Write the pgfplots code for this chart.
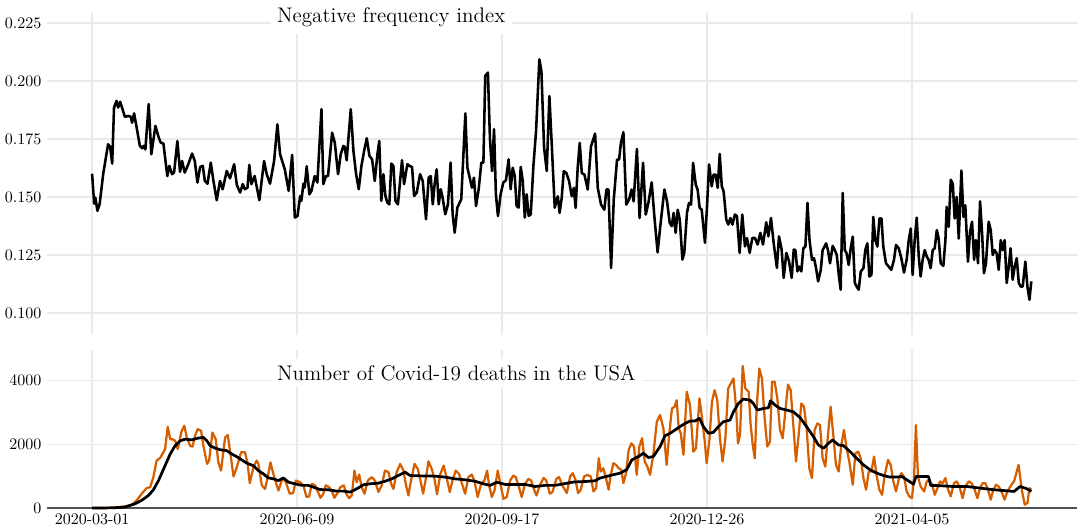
\documentclass[border=0pt]{standalone}
\usepackage{pgfplots}
\pgfplotsset{compat=1.18}
\definecolor{vermil}{RGB}{213,94,0}
\definecolor{gridc}{RGB}{234,234,234}
\definecolor{axc}{RGB}{80,80,80}
\tikzset{ttl/.style={font=\fontsize{13.2}{15}\selectfont, fill=white, inner sep=4pt, anchor=base west}}
\begin{document}
\begin{tikzpicture}
\useasboundingbox (0pt,0pt) rectangle (677.5pt,330pt);
\pgfplotsset{
  common/.style={
    scale only axis, width=643.75pt, anchor=south west,
    xmin=-22, xmax=480.5,
    xtick={0,100,200,300,400},
    grid=major, major grid style={draw=gridc, line width=0.8pt},
    major tick length=0pt, tick style={draw=none},
    axis x line*=bottom, axis y line*=left,
    y axis line style={draw=none},
    clip=false,
    tick label style={font=\normalsize, black},
  },
}
\begin{axis}[common,
  at={(29.375pt,120.625pt)}, height=201.875pt,
  ymin=0.0905, ymax=0.2297,
  ytick={0.100,0.125,0.150,0.175,0.200,0.225},
  yticklabel style={/pgf/number format/fixed, /pgf/number format/fixed zerofill, /pgf/number format/precision=3},
  xticklabels={},
  x axis line style={draw=none},
]
\addplot[black, line width=1.6pt, line join=round] coordinates {
(0,0.160)(1,0.1471)(1.6,0.1497)(2.6,0.144)(3.7,0.147)(5.4,0.1598)(7.8,0.1727)(8.8,0.1716)(9.8,0.1644)(10.7,0.1885)(11.9,0.1914)(12.7,0.1885)(13.7,0.191)(14.6,0.1885)(16,0.1845)(17.6,0.1849)(18.9,0.1845)(19.5,0.182)(20.5,0.186)(21.6,0.1806)(23.3,0.172)(24.4,0.171)(25,0.172)(26,0.1705)(27.6,0.190)(28.9,0.1684)(30.9,0.1806)(32.5,0.1756)(33.5,0.1734)(34.8,0.173)(36.7,0.159)(37.7,0.1634)(39,0.1598)(40,0.1605)(41.6,0.1741)(42.9,0.1608)(43.9,0.1655)(45.2,0.1605)(46.8,0.1638)(48.8,0.1687)(50.1,0.1655)(51.4,0.1562)(52.7,0.1629)(54,0.1634)(55,0.1569)(56.3,0.1557)(57.9,0.1648)(59.2,0.1569)(60.8,0.1486)(62.4,0.1569)(63.7,0.1533)(65.7,0.1612)(67.3,0.158)(69.3,0.1641)(70.6,0.1552)(72.2,0.1519)(73.5,0.1555)(74.5,0.1533)(75.8,0.154)(76.7,0.1638)(77.7,0.1555)(79.3,0.159)(81.6,0.1486)(83.9,0.1655)(85.2,0.1598)(86.8,0.1557)(88.8,0.1655)(90.4,0.1813)(91.7,0.1684)(94,0.1619)(95.9,0.1526)(97.6,0.1681)(98.9,0.1411)(100.2,0.1418)(101.5,0.1504)(102.1,0.1483)(103.1,0.1557)(103.7,0.154)(104.7,0.1632)(106,0.1511)(107,0.1526)(108.6,0.159)(109.9,0.1562)(111.9,0.1878)(112.8,0.1555)
(114.1,0.159)(115.1,0.159)(117.1,0.1777)(118.4,0.1734)(120,0.1598)(121.3,0.1684)(122.6,0.172)(123.2,0.1716)(124.2,0.1658)(126.2,0.1878)(127.5,0.1698)(128.8,0.1598)(130.1,0.1533)(131.4,0.1634)(132.7,0.1698)(134,0.1753)(135.3,0.1677)(136.6,0.1662)(137.9,0.1569)(139.2,0.1684)(140.1,0.1741)(141.1,0.1483)(142.1,0.1598)(143.1,0.1504)(144,0.1476)(145,0.1468)(146,0.1644)(147,0.1634)(148,0.1483)(149.2,0.1468)(151.2,0.1658)(152.2,0.1555)(153.8,0.1641)(154.8,0.1634)(156.1,0.1629)(157.1,0.1504)(158.4,0.1519)(160,0.1598)(161.3,0.1569)(162.9,0.1404)(164.2,0.1583)(165.2,0.159)(166.2,0.1468)(167.1,0.1555)(168.1,0.1619)(169.1,0.1468)(170.1,0.1533)(171,0.1497)(172.3,0.1425)(173.6,0.1468)(174.9,0.1648)(175.9,0.1425)(176.9,0.1346)(178.2,0.1454)(180.1,0.149)(182.1,0.186)(183.1,0.1626)(184.4,0.1576)(185.3,0.154)(186.3,0.1583)(187.3,0.1461)(188.6,0.1533)(189.9,0.1648)(190.9,0.1648)(191.8,0.2022)(193.1,0.2036)(194.1,0.1749)(195.1,0.1612)(196.1,0.1792)(197,0.1511)(198,0.1418)(199.3,0.1511)(200.6,0.1562)(201.9,0.1572)(203.2,0.1662)(204.2,0.1533)(205.2,0.1626)(206.2,0.159)(207.1,0.1461)(208.1,0.1454)(209.1,0.1629)(210.1,0.1569)(211.1,0.1411)(212,0.1511)(213,0.1418)(214,0.1425)(215.3,0.1634)(216.6,0.1785)(218.2,0.2093)(219.2,0.2043)(220.5,0.1713)(221.8,0.1612)(223.1,0.1935)(224.4,0.1698)(225.7,0.1454)
(227.2,0.1503)(228.1,0.1431)(229.1,0.1496)(230.1,0.1611)(231.4,0.1603)(232.7,0.1568)(234,0.1503)(235,0.1539)(235.9,0.1453)(236.9,0.1625)(237.9,0.1733)(238.9,0.1603)(240.2,0.1596)(241.8,0.1532)(243.4,0.1718)(245.4,0.1773)(246.7,0.1539)(248.3,0.1467)(249.9,0.1445)(250.9,0.1532)(251.9,0.1532)(253.2,0.1194)(254.5,0.1489)(256.1,0.1661)(257.1,0.1661)(258,0.1733)(259.2,0.1779)(260.6,0.1467)(262,0.1489)(263.2,0.1532)(264.2,0.1481)(265.8,0.1707)(267.1,0.1409)(268.8,0.1647)(270.1,0.1424)(271.4,0.1474)(273,0.1563)(274.3,0.1417)(275.9,0.1261)(277.2,0.1374)(279.2,0.1532)(280.5,0.1481)(281.8,0.1388)(282.8,0.1374)(283.7,0.1431)(284.7,0.1345)(285.7,0.1445)(286.7,0.1402)(288,0.1230)(288.9,0.1259)(290.2,0.1431)(291.2,0.1474)(292.2,0.1467)(293.2,0.1647)(294.5,0.1553)(295.4,0.1532)(296.4,0.1453)(297.4,0.1445)(299,0.1302)(300,0.146)(301,0.164)(302.3,0.1546)(303.2,0.1596)(304.2,0.1596)(305.2,0.1539)(306.2,0.1685)(307.2,0.1546)(308.1,0.1524)(309.4,0.1402)(310.4,0.1381)(311.4,0.1409)(312.4,0.1381)(313.6,0.1424)(314.6,0.1417)(315.9,0.1259)(317.2,0.1424)(318.5,0.1287)(319.5,0.1323)(320.8,0.1259)(322.1,0.1323)(323.4,0.1323)(324.7,0.1295)(326,0.1345)(327.3,0.1295)(328.9,0.1391)(329.9,0.133)(331.2,0.1409)(332.5,0.1302)(334.1,0.1194)(335.1,0.133)(336.4,0.1273)(337.4,0.1151)(338.7,0.1259)(340,0.1223)(341.3,0.1151)(342.3,0.1273)
(343.1,0.1271)(344.1,0.1179)(345,0.12)(346,0.1179)(347,0.1279)(348,0.1286)(349,0.1474)(350,0.1314)(351.2,0.1229)(352.2,0.1236)(353.2,0.1193)(354.2,0.1136)(355.5,0.1186)(356.4,0.1271)(358.1,0.13)(359,0.1271)(360,0.1214)(361.3,0.1289)(362.3,0.1271)(363.3,0.125)(364.2,0.1171)(365.2,0.11)(366.2,0.1517)(367.2,0.1271)(368.1,0.1257)(369.1,0.1207)(370.1,0.1279)(371.1,0.1329)(372.1,0.1129)(373,0.1114)(374,0.11)(375,0.1179)(376.3,0.1193)(377.2,0.1271)(378.2,0.13)(379.2,0.1157)(380.2,0.1164)(381.1,0.1414)(382.1,0.1314)(383.1,0.1286)(384.1,0.1407)(385.1,0.1407)(386,0.1286)(387.3,0.1214)(388.6,0.12)(389.9,0.1186)(391.2,0.1229)(392.2,0.1293)(393.5,0.1279)(394.8,0.1236)(396.1,0.1174)(397.4,0.1229)(398.4,0.1314)(399.4,0.1364)(400.3,0.1164)(401.3,0.1314)(402.3,0.1411)(403.3,0.1243)(404.2,0.1157)(405.2,0.1229)(406.2,0.1271)(407.2,0.1243)(408.1,0.1229)(409.1,0.1193)(410.1,0.1271)(411.1,0.1279)(412.1,0.1357)(413,0.1321)(414,0.1214)(415.3,0.1203)(416.3,0.1314)(416.9,0.1457)(417.9,0.1371)(418.9,0.1574)(419.9,0.1557)(420.8,0.1407)(421.8,0.15)(422.8,0.1321)(423.4,0.1457)(424.1,0.1614)(425.1,0.1414)(426,0.1464)(427.3,0.1221)(428.3,0.135)(429.3,0.1393)(430.3,0.1229)(431.2,0.1314)(432.2,0.1214)(433.2,0.1481)(434.2,0.1343)(435.1,0.1171)(436.1,0.1214)(437.4,0.1393)(438.4,0.1357)(439.4,0.125)(440.3,0.1271)(441.3,0.1257)(442.3,0.1186)(443.3,0.1314)(444.2,0.1271)(445.2,0.1314)(446.2,0.1129)(447.2,0.12)(448.1,0.1279)(449.1,0.1143)(450.1,0.12)(451.1,0.1236)(452.1,0.1129)(453,0.1114)(454,0.1114)(455.3,0.1221)(456.3,0.1114)(457.3,0.1057)(458.2,0.1136)
};
\node[ttl] at (axis cs:87,0.225) {Negative frequency index};
\end{axis}
\begin{axis}[common,
  at={(29.375pt,12.5pt)}, height=98.75pt,
  ymin=0, ymax=4960,
  ytick={0,2000,4000},
  scaled y ticks=false,
  yticklabel style={/pgf/number format/1000 sep={}},
  xticklabels={2020-03-01,2020-06-09,2020-09-17,2020-12-26,2021-04-05},
  x axis line style={draw=axc, line width=0.9pt, -},
]
\addplot[vermil, line width=1.4pt, line join=round] coordinates {
(0,0)(5,2)(10,8)(13,25)(16.1,50)(19.4,100)(21.8,240)(24.2,450)(26.7,630)(28.3,650)(29.9,970)(31.5,1490)(33.2,1570)(34.8,1750)(35.6,1850)(36.9,2550)(38.1,2160)(39.2,2160)(40.5,2110)(41.8,1850)(43.7,2420)(45,2580)(46.2,2215)(47.8,1955)(49,1925)(50.2,2270)(51.5,2475)(53.2,2420)(54.3,1955)(56.1,1385)(57.1,1490)(58.7,2370)(60.3,2160)(61.6,1435)(62.9,1175)(64.9,2215)(66.2,2290)(67.5,1695)(69,990)(70.6,1280)(72.7,1750)(74.6,1750)(75.9,1385)(76.9,780)(78.7,1280)(80.3,1490)(81.1,1385)(82.8,710)(84.4,600)(85.7,970)(87,1435)(88,1175)(89.6,810)(90.9,550)(92.5,860)(93.8,915)(94.8,760)(96.4,450)(98.1,470)(99.4,860)(101.5,810)(103.1,710)(104.6,345)(105.9,365)(107.2,760)(108.8,710)(109.9,550)(111.4,320)(112.7,430)(114,710)(115.6,655)(116.9,550)(118.2,320)(119.5,450)(121.1,655)(122.8,710)(124.1,430)(125.4,310)(126.7,395)(128,1175)(129.1,810)(130.3,1050)(131.5,655)(132.9,450)(134.5,860)(136.4,970)(138,860)(139.7,500)(141.3,710)(142.9,1175)(144.6,1125)(145.9,760)(147,600)(148.6,1125)(150.3,1385)(151.9,1175)(153,760)(154.3,395)(155.6,860)(157.3,1385)(158.9,1225)(160.2,860)(161.5,450)(162.8,915)(164.1,1465)(165.7,1225)(167,915)(168.3,430)(169.9,1070)(171.5,1330)(172.9,970)(174.5,500)(175.8,860)(177.4,1175)(179,1070)(180.7,710)(182,450)(183.6,970)(185.2,1050)(186.5,860)(188.1,345)(189.8,760)(191.4,860)(192.7,1175)(193.7,710)(195,345)(196.3,550)(197.9,1175)(199.2,760)(200.7,290)(202.3,345)(203.9,860)(205.5,1020)(206.7,970)(208,710)(209.6,345)(211.2,760)(212.9,915)(214.2,860)(215.5,600)(216.8,395)(218.4,710)(220.3,945)(221.6,860)(223.3,450)(224.6,500)(226.5,915)(227.8,970)(229.4,710)
(231.6,470)(233.2,990)(234.5,1095)(235.8,885)(237.1,470)(238.4,575)(240,990)(241.6,1040)(243.3,990)(244.6,520)(245.9,625)(247.2,1560)(248.1,1145)(249.4,1250)(250.7,940)(252,575)(253,1040)(254.3,1405)(255.6,1355)(256.9,1250)(258.2,1200)(259.2,780)(260.5,1095)(261.8,1825)(263.1,2030)(264.4,1930)(265.7,1040)(267,1930)(268.3,2190)(269.6,1460)(270.9,1300)(272.2,1040)(273.8,1670)(275.5,2710)(277.1,2920)(278.7,2500)(280.3,1355)(281.6,2345)(282.9,3125)(284.2,3180)(285.2,3385)(286.2,2500)(287.2,2345)(288.5,1670)(290.1,3650)(291.7,3230)(293.3,1770)(294.6,1875)(296.3,3440)(297.6,2815)(298.9,2085)(299.8,1405)(301.1,2085)(302.4,3335)(303.7,3700)(305,3385)(306.3,2190)(307.6,1460)(308.9,2135)(310.3,3750)(311.6,3910)(312.9,4065)(314.2,3125)(315.1,2030)(316.1,2290)(317.4,4460)(318.7,3750)(320.3,3650)(321.3,2605)(322.3,1980)(323.3,1560)(324.2,3125)(325.5,4375)(326.8,4065)(328.1,2815)(329.4,1930)(330.7,2085)(331.7,3960)(333,3960)(334.3,3440)(335.6,2450)(336.9,2190)(338.2,3020)(339.5,3875)(340.8,3700)(342.1,2605)(343.4,1460)(344.7,2290)(346,3280)(347.3,3180)(348.6,2500)(349.9,1250)(351.2,940)(352.5,2450)(353.8,2655)(355.1,2605)(356.4,1560)(357.7,1300)(359,2290)(360.3,3180)(361.6,2290)(362.9,1355)(364.2,1145)(365.5,1980)(366.8,2450)(368.1,1875)(369.4,1460)(371.1,730)(372.4,1720)(373.7,1770)(375,1560)(376.3,940)(377.6,575)(378.9,1145)(380.2,1145)(381.5,1615)(382.8,990)(384.1,575)(385.4,415)(386.7,1040)(388.3,1510)(389.6,1355)(390.9,835)(392.2,520)(393.5,885)(394.8,1095)(396.1,990)(397.4,520)(398.7,365)(400,310)(401,940)(401.9,2605)(402.9,990)(404.2,675)(405.9,520)(407.2,835)(408.5,885)(409.8,730)(411.1,415)(412.4,625)(413.7,835)(415,780)(416.3,940)(417.6,575)(418.9,365)(420.5,780)(421.8,835)(423.1,675)(424.7,310)(426,675)(427.7,835)(429,780)(430.3,625)(431.9,310)(433.2,625)(434.5,780)(435.8,780)(437.1,575)(438.4,260)(439.7,575)(441,730)(442.3,675)(443.6,520)(445.2,260)(446.5,520)(448.5,730)(449.8,835)(452,1355)(453.7,520)(455,105)(456.3,155)(457.3,625)(458.2,575)
};
\addplot[black, line width=1.7pt, line join=round] coordinates {
(0,0)(10,5)(16.1,30)(21,135)(24.2,240)(27.5,395)(29.9,570)(32.4,860)(35.6,1330)(38.1,1695)(40.5,1955)(43,2110)(45.4,2160)(48.6,2140)(51.9,2195)(54.3,2215)(56,2110)(57.6,1955)(60,1880)(62.4,1830)(65.7,1800)(68.1,1695)(70.6,1610)(73,1510)(75.5,1405)(78.7,1330)(81.1,1175)(83.6,1070)(86,945)(88.5,915)(90.9,860)(93.3,945)(95.8,810)(99,760)(102.3,710)(105.5,710)(108.8,635)(111.2,580)(115.3,570)(119.4,530)(122.6,530)(125.9,500)(127.5,550)(130,635)(132.4,730)(135.6,760)(139.7,780)(142.9,840)(146.2,915)(149.4,1020)(152.7,1125)(155.1,1020)(159.2,1010)(167.3,1000)(172.2,970)(177.1,915)(182,885)(186.8,840)(190.9,760)(194.2,710)(197.4,810)(201.5,740)(206.4,740)(211.2,740)(216.1,675)(221,710)(225.8,710)(234.8,815)(241.3,835)(245.4,855)(247.8,940)(252.7,1020)(257.6,1095)(260.8,1200)(263.3,1510)(266.5,1615)(269,1720)(271.4,1585)(273.8,1615)(277.1,1930)(279.5,2270)(282,2345)(284.4,2450)(286.8,2555)(289.3,2655)(291.7,2730)(294.2,2730)(296.3,2815)(298.2,2555)(300.7,2345)(303.1,2375)(305.5,2555)(308,2710)(311.2,2760)(312.9,3020)(315.3,3280)(317.7,3420)(321,3385)(322.6,3280)(324.6,3075)(327.5,3125)(329.9,3145)(331,3365)(333.2,3230)(335.6,3125)(338.9,3075)(342.1,3020)(345.4,2835)(348.6,2555)(351.9,2240)(354.3,1980)(356.8,1875)(359.2,2030)(361.3,2135)(364.1,1980)(366.5,1960)(369.8,1770)(373,1560)(376.3,1355)(379.5,1200)(382.8,1095)(386,1020)(389.3,970)(392.5,970)(395,990)(398.2,855)(400.7,750)(402,990)(404.7,990)(408,990)(409.1,710)(413.7,700)(420.2,675)(426.7,675)(433.2,625)(439.7,575)(446.2,540)(449.8,520)(452.7,675)(456,605)(458.2,520)
};
\node[ttl] at (axis cs:87,4000) {Number of Covid-19 deaths in the USA};
\end{axis}
\end{tikzpicture}
\end{document}
